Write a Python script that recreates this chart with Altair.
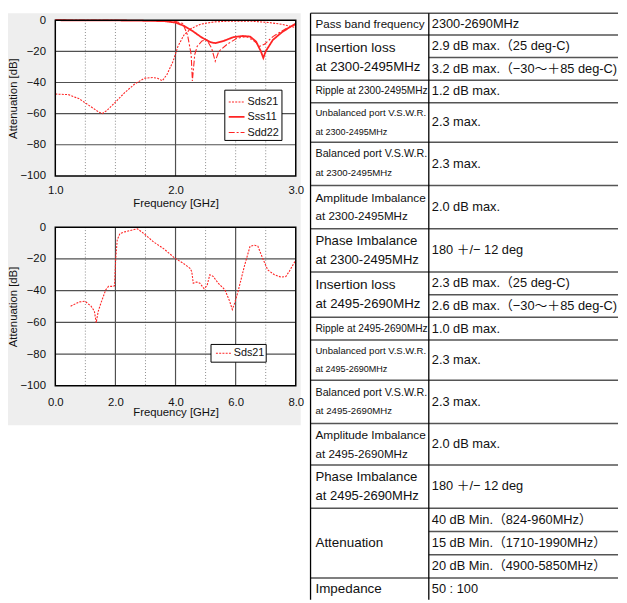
import altair as alt
import pandas as pd

# ---------------- upper chart data (1.0 - 3.0 GHz) ----------------
top_sds21_f = [1.00, 1.11, 1.20, 1.28, 1.36, 1.39, 1.43, 1.50, 1.58, 1.66, 1.74, 1.81, 1.85, 1.89,
               1.93, 1.98, 2.02, 2.07, 2.13, 2.21, 2.32, 2.45, 2.62, 2.78, 2.89, 3.00]
top_sds21_db = [-47.4, -47.8, -50.5, -54.7, -58.9, -60.0, -57.9, -52.6, -46.3, -41.0, -37.3, -36.8, -37.3, -38.9,
                -34.7, -26.3, -16.8, -9.5, -5.3, -2.5, -1.1, -0.6, -0.6, -1.5, -2.7, -4.8]
top_sss11_f = [1.00, 1.63, 1.91, 2.00, 2.07, 2.15, 2.22, 2.29, 2.33, 2.40, 2.48, 2.56, 2.62, 2.67,
               2.71, 2.73, 2.75, 2.81, 2.89, 3.00]
top_sss11_db = [0.0, -0.2, -0.6, -1.5, -3.6, -7.4, -11.2, -14.1, -14.7, -13.3, -10.9, -10.1, -10.5, -13.7,
                -20.0, -24.2, -20.0, -12.6, -7.4, -2.1]
top_sdd22_f = [1.00, 1.77, 1.99, 2.06, 2.10, 2.13, 2.14, 2.16, 2.18, 2.22, 2.26, 2.30, 2.33, 2.36,
               2.43, 2.51, 2.59, 2.66, 2.70, 2.74, 2.81, 2.92, 3.00]
top_sdd22_db = [0.0, -0.2, -0.6, -2.1, -9.5, -22.0, -39.0, -22.0, -16.8, -13.3, -12.6, -17.9, -26.3, -20.0,
                -15.4, -11.6, -10.5, -13.7, -16.8, -15.4, -10.5, -5.3, -2.7]

# ---------------- lower chart data (0 - 8 GHz) ----------------
bot_sds21_f = [0.51, 0.80, 0.99, 1.19, 1.30, 1.36, 1.43, 1.52, 1.68, 1.77, 1.90, 1.97, 2.01, 2.06,
               2.15, 2.29, 2.62, 2.73, 2.95, 3.27, 3.60, 3.99, 4.26, 4.48, 4.54, 4.59, 4.70, 4.81,
               4.95, 5.05, 5.14, 5.25, 5.42, 5.64, 5.80, 5.89, 5.97, 6.08, 6.30, 6.48, 6.63, 6.74,
               6.90, 7.07, 7.29, 7.51, 7.67, 7.78, 8.00]
bot_sds21_db = [-49.8, -47.1, -46.7, -49.8, -52.9, -60.2, -52.9, -47.7, -39.4, -37.3, -37.3, -37.0, -20.0, -8.0,
                -4.0, -3.1, -1.5, -1.0, -4.1, -9.3, -13.5, -19.7, -22.8, -25.9, -28.0, -35.3, -34.6, -35.3,
                -38.8, -36.7, -30.0, -31.0, -35.3, -39.4, -46.7, -51.9, -47.7, -40.5, -23.9, -12.0, -11.4, -12.0,
                -19.7, -27.0, -30.0, -31.5, -31.1, -28.0, -20.7]

series_names = ["Sds21", "Sss11", "Sdd22"]

top_x_ticks = [1.0, 2.0, 3.0]
top_x_major = [2.0]
top_x_minor = [1.25, 1.5, 1.75, 2.25, 2.5, 2.75]
bot_x_ticks = [0.0, 2.0, 4.0, 6.0, 8.0]
bot_x_major = [2.0, 4.0, 6.0]
bot_x_minor = [1.0, 3.0, 5.0, 7.0]
y_ticks = [0, -20, -40, -60, -80, -100]
y_major = [-20, -40, -60, -80]

# ---------------- table content ----------------
row_heights = [22, 46, 23, 40, 44, 44, 44, 46, 23, 41, 44, 42, 44, 71, 22]
left_text = [
    ["Pass band frequency"],
    ["Insertion loss", "\u00a0at 2300-2495MHz"],
    ["Ripple at 2300-2495MHz"],
    ["Unbalanced port V.S.W.R.", "\u00a0at 2300-2495MHz"],
    ["Balanced port V.S.W.R.", "\u00a0at 2300-2495MHz"],
    ["Amplitude Imbalance", "\u00a0at 2300-2495MHz"],
    ["Phase Imbalance", "\u00a0at 2300-2495MHz"],
    ["Insertion loss", "\u00a0at 2495-2690MHz"],
    ["Ripple at 2495-2690MHz"],
    ["Unbalanced port V.S.W.R.", "\u00a0at 2495-2690MHz"],
    ["Balanced port V.S.W.R.", "\u00a0at 2495-2690MHz"],
    ["Amplitude Imbalance", "\u00a0at 2495-2690MHz"],
    ["Phase Imbalance", "\u00a0at 2495-2690MHz"],
    ["Attenuation"],
    ["Impedance"],
]
right_text = [
    ["2300-2690MHz"],
    ["2.9 dB max.（25 deg-C)", "3.2 dB max.（−30〜＋85 deg-C)"],
    ["1.2 dB max."],
    ["2.3 max."],
    ["2.3 max."],
    ["2.0 dB max."],
    ["180 ＋/− 12 deg"],
    ["2.3 dB max.（25 deg-C)", "2.6 dB max.（−30〜＋85 deg-C)"],
    ["1.0 dB max."],
    ["2.3 max."],
    ["2.3 max."],
    ["2.0 dB max."],
    ["180 ＋/− 12 deg"],
    ["40 dB Min.（824-960MHz）", "15 dB Min.（1710-1990MHz）", "20 dB Min.（4900-5850MHz）"],
    ["50 : 100"],
]
# font size per line of the left column
left_sizes = [[11.8], [13.8, 13.4], [10.3], [9.7, 9.2], [10.9, 9.8], [12.0, 11.8], [13.4, 13.2],
              [13.8, 13.4], [10.3], [9.7, 9.2], [10.9, 9.8], [12.0, 11.8], [13.4, 13.2], [13.6], [13.6]]

# ---------------- style ----------------
RED = "#ff2424"
PANEL = "#eeeeee"
GRID = "#505050"
DOT = "#8a8a8a"
FONT = "Liberation Sans"
VALFONT = "Liberation Sans, Noto Sans CJK JP"
DASH = {"Sds21": [2, 1.3], "Sss11": [1, 0], "Sdd22": [6, 2, 2, 2]}
SW = {"Sds21": 1.1, "Sss11": 1.8, "Sdd22": 1.1}

W, H1, H2 = 244, 158, 161
TX0, TW, TH = W + 15, 312, 588
ONE = alt.Data(values=[{}])


def plot(series, xdom, xticks, xmaj, xmin, H, legend, lab_pad, title_y, panel=False):
    xs = alt.Scale(domain=xdom, nice=False, zero=False)
    ys = alt.Scale(domain=[-100, 0], nice=False, zero=False)
    xax = alt.Axis(values=xticks, format=".1f", title="Frequency [GHz]", grid=False, domain=False,
                   ticks=False, labelPadding=lab_pad, titleY=title_y, titleBaseline="middle",
                   labelFlush=False, labelOverlap=False, zindex=1)
    yax = alt.Axis(values=y_ticks, title="Attenuation [dB]", grid=False, domain=False, ticks=False,
                   labelPadding=10, titleX=-42, titleY=H / 2, titleAngle=270, titleBaseline="middle",
                   titleAlign="center", labelFlush=False, labelOverlap=False, zindex=1)
    layers = []
    if panel:
        layers.append(alt.Chart(ONE).mark_rect(color=PANEL).encode(
            x=alt.value(-48), x2=alt.value(W + 5), y=alt.value(-7), y2=alt.value(411)))
    layers.append(alt.Chart(ONE).mark_rect(color="white").encode(
        x=alt.value(0), x2=alt.value(W), y=alt.value(0), y2=alt.value(H)))
    layers.append(alt.Chart(pd.DataFrame({"f": xmin})).mark_rule(color=DOT, strokeDash=[1, 2], strokeWidth=1).encode(
        x=alt.X("f:Q", scale=xs, axis=xax), y=alt.value(0), y2=alt.value(H)))
    layers.append(alt.Chart(pd.DataFrame({"f": xmaj})).mark_rule(color=GRID, strokeWidth=1.2).encode(
        x=alt.X("f:Q", scale=xs, axis=xax), y=alt.value(0), y2=alt.value(H)))
    layers.append(alt.Chart(pd.DataFrame({"db": y_major})).mark_rule(color=GRID, strokeWidth=1.2).encode(
        y=alt.Y("db:Q", scale=ys, axis=yax), x=alt.value(0), x2=alt.value(W)))
    for name, fs, dbs in series:
        df = pd.DataFrame({"f": fs, "db": dbs})
        layers.append(alt.Chart(df).mark_line(color=RED, strokeDash=DASH[name], strokeWidth=SW[name]).encode(
            x=alt.X("f:Q", scale=xs, axis=xax), y=alt.Y("db:Q", scale=ys, axis=yax)))
    layers.append(alt.Chart(ONE).mark_rect(fillOpacity=0, stroke="black", strokeWidth=1.5).encode(
        x=alt.value(0), x2=alt.value(W), y=alt.value(0), y2=alt.value(H)))
    (bx1, bx2, by1, by2), entries, (sx1, sx2, tx) = legend
    layers.append(alt.Chart(ONE).mark_rect(fill="white", stroke="black", strokeWidth=1).encode(
        x=alt.value(bx1), x2=alt.value(bx2), y=alt.value(by1), y2=alt.value(by2)))
    for name, yy in entries:
        layers.append(alt.Chart(ONE).mark_rule(color=RED, strokeDash=DASH[name], strokeWidth=SW[name]).encode(
            x=alt.value(sx1), x2=alt.value(sx2), y=alt.value(yy)))
        layers.append(alt.Chart(ONE).mark_text(text=name, align="left", baseline="middle", font=FONT,
                                               fontSize=11, color="#111").encode(
            x=alt.value(tx), y=alt.value(yy)))
    return alt.layer(*layers)


# ---------------- table layers (drawn to the right of the upper chart) ----------------
DIV = 120
bounds = [0]
for h in row_heights:
    bounds.append(bounds[-1] + h)
total = bounds[-1]
ysc = alt.Scale(domain=[0, total], range=[-7, TH], nice=False, zero=False)

hl = []
for i in range(len(row_heights)):
    hl.append({"yb": bounds[i], "x0": TX0})
    n = len(right_text[i])
    for k in range(1, n):
        hl.append({"yb": bounds[i] + row_heights[i] * k / n, "x0": TX0 + DIV})
hl_df = pd.DataFrame(hl)

txt_left, txt_val = [], []
LS = 19
for i in range(len(row_heights)):
    mid = bounds[i] + row_heights[i] / 2
    lines = left_text[i]
    n = len(lines)
    for j, t in enumerate(lines):
        txt_left.append({"yt": mid + (j - (n - 1) / 2) * LS, "t": t, "s": left_sizes[i][j]})
    vals = right_text[i]
    m = len(vals)
    for k, t in enumerate(vals):
        txt_val.append({"yt": bounds[i] + row_heights[i] * (k + 0.5) / m, "t": t, "s": 13.0})

tlayers = [
    alt.Chart(hl_df).mark_rule(color="#555555", strokeWidth=1.5).encode(
        x=alt.X("x0:Q", scale=None, axis=None), x2=alt.value(TX0 + TW),
        y=alt.Y("yb:Q", scale=ysc, axis=None)),
    alt.Chart(pd.DataFrame({"yb": [0]})).mark_rule(color="black", strokeWidth=1.3).encode(
        x=alt.value(TX0), y=alt.Y("yb:Q", scale=ysc, axis=None), y2=alt.value(TH)),
    alt.Chart(pd.DataFrame({"yb": [0]})).mark_rule(color="black", strokeWidth=1.3).encode(
        x=alt.value(TX0 + DIV), y=alt.Y("yb:Q", scale=ysc, axis=None), y2=alt.value(TH)),
]
for recs, fnt, xx in [(txt_left, FONT, TX0 + 5), (txt_val, VALFONT, TX0 + DIV + 3)]:
    tlayers.append(alt.Chart(pd.DataFrame(recs)).mark_text(align="left", baseline="middle", font=fnt,
                                                           color="#111").encode(
        x=alt.value(xx), y=alt.Y("yt:Q", scale=ysc, axis=None), text="t:N",
        size=alt.Size("s:Q", scale=None, legend=None)))
table = alt.layer(*tlayers)

top_plot = plot(
    [("Sds21", top_sds21_f, top_sds21_db), ("Sss11", top_sss11_f, top_sss11_db),
     ("Sdd22", top_sdd22_f, top_sdd22_db)],
    [1.0, 3.0], top_x_ticks, top_x_major, top_x_minor, H1,
    ((172, 230, 71, 122), [("Sds21", 83), ("Sss11", 98), ("Sdd22", 114)], (176, 192, 195)),
    9, 28, panel=True)
top = alt.layer(top_plot, table).resolve_scale(y="independent").properties(width=W, height=H1)

bottom = plot(
    [("Sds21", bot_sds21_f, bot_sds21_db)],
    [0.0, 8.0], bot_x_ticks, bot_x_major, bot_x_minor, H2,
    ((158, 214, 119, 137), [("Sds21", 128)], (163, 179, 181)),
    11, 27).properties(width=W, height=H2)

chart = alt.vconcat(top, bottom, spacing=52, bounds="flush").properties(
    padding=0, background="white"
).configure_view(stroke=None).configure_axis(
    labelFont=FONT, titleFont=FONT, labelFontSize=11.5, titleFontSize=11.5,
    titleFontWeight="normal", labelColor="#111", titleColor="#111")

chart.save("out.html", embed_options={"renderer": "svg", "actions": False})
